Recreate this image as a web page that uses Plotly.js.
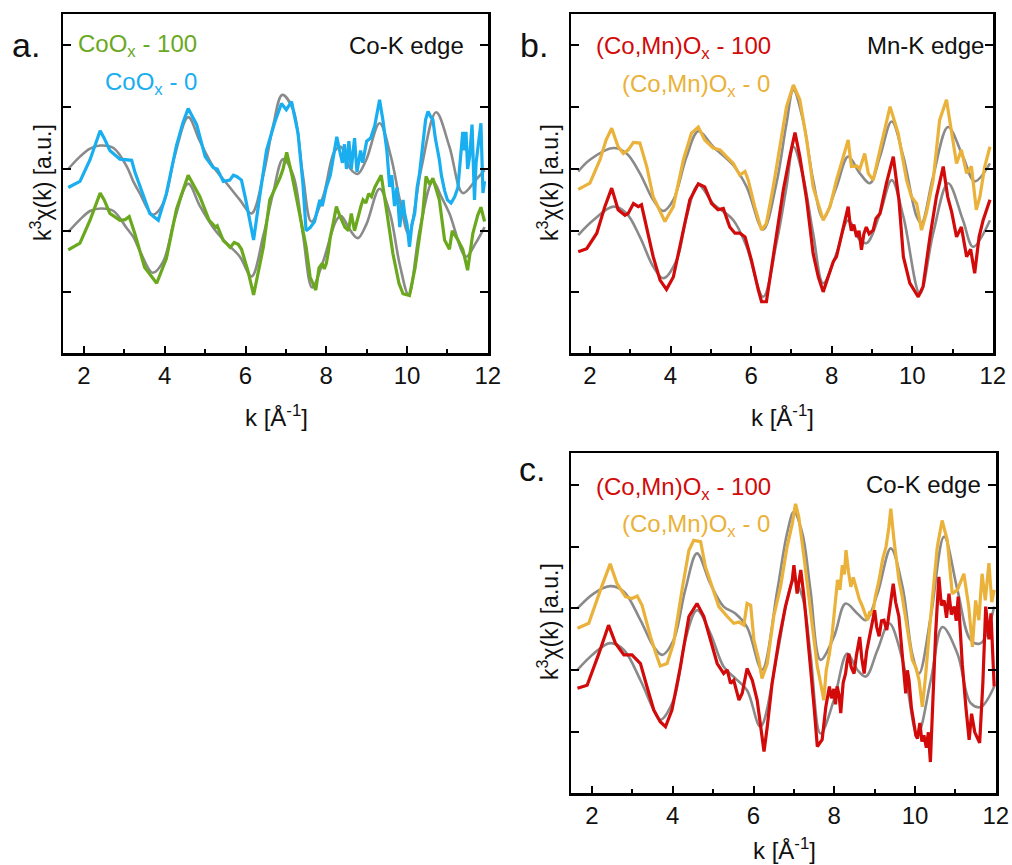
<!DOCTYPE html>
<html>
<head>
<meta charset="utf-8">
<script src="https://cdn.plot.ly/plotly-3.0.1.min.js"></script>
<style>html,body{margin:0;padding:0;background:#fff}#chart{width:1012px;height:865px}</style>
</head>
<body>
<div id="chart"></div>
<script>
// ---------------- DATA (k in 1/Angstrom, k^3 chi(k) in arbitrary units, offset stacked) ----------------
// Panel a: Co-K edge, CoOx
const coOx0_a = [[1.61,-0.30],[1.90,-0.20],[2.15,0.15],[2.30,0.45],[2.40,0.62],[2.50,0.50],[2.64,0.30],[2.89,0.16],[3.10,0.15],[3.18,0.14],[3.26,-0.05],[3.47,-0.45],[3.63,-0.72],[3.84,-0.83],[4.04,-0.40],[4.29,0.38],[4.45,0.75],[4.58,0.98],[4.79,0.72],[5.00,0.20],[5.20,0.02],[5.30,0.00],[5.45,-0.20],[5.61,-0.18],[5.70,-0.10],[5.78,-0.12],[5.90,-0.18],[6.00,-0.48],[6.20,-1.15],[6.35,-0.45],[6.52,0.30],[6.72,0.75],[6.89,1.06],[7.01,0.96],[7.14,1.09],[7.30,0.58],[7.42,-0.23],[7.50,-1.00],[7.60,-0.95],[7.71,-0.85],[7.84,-0.50],[7.90,-0.60],[8.00,-0.30],[8.10,-0.10],[8.20,0.30],[8.26,0.52],[8.33,0.30],[8.40,0.10],[8.45,0.40],[8.50,0.00],[8.56,0.45],[8.62,0.00],[8.70,0.50],[8.76,-0.05],[8.85,0.30],[8.90,0.10],[9.00,0.45],[9.10,0.50],[9.20,0.70],[9.32,1.12],[9.40,0.80],[9.50,0.30],[9.57,-0.29],[9.62,-0.10],[9.69,-0.60],[9.75,-0.30],[9.82,-0.94],[9.90,-0.50],[9.94,-0.72],[10.00,-0.90],[10.06,-1.26],[10.12,-0.90],[10.19,-0.72],[10.25,-0.30],[10.31,-0.07],[10.40,0.50],[10.46,0.80],[10.52,0.93],[10.58,0.85],[10.64,0.80],[10.70,0.50],[10.80,0.15],[10.85,-0.10],[10.93,-0.35],[11.00,-0.50],[11.09,-0.55],[11.18,-0.45],[11.26,-0.30],[11.30,0.00],[11.38,0.60],[11.42,0.30],[11.46,0.60],[11.50,0.00],[11.55,0.20],[11.61,0.72],[11.67,-0.50],[11.71,0.10],[11.75,0.31],[11.80,0.60],[11.83,0.74],[11.88,-0.39],[11.92,-0.20]];
const coOx0_a_fit = [[1.61,0.00],[1.90,0.20],[2.15,0.33],[2.40,0.38],[2.73,0.34],[3.06,0.04],[3.22,-0.20],[3.38,-0.39],[3.70,-0.74],[3.96,-0.56],[4.25,0.22],[4.58,0.84],[4.87,0.45],[5.20,0.04],[5.53,-0.23],[5.86,-0.50],[6.15,-0.72],[6.44,-0.10],[6.68,0.69],[6.91,1.20],[7.18,0.96],[7.42,-0.10],[7.63,-0.85],[7.92,-0.45],[8.20,0.28],[8.36,0.36],[8.60,0.00],[8.78,-0.08],[8.99,0.15],[9.32,0.74],[9.60,0.20],[9.82,-0.50],[10.04,-1.05],[10.35,0.00],[10.72,0.92],[11.05,0.36],[11.38,-0.39],[11.70,-0.18],[11.92,-0.02]];
const coOx100_a = [[1.61,-1.31],[1.90,-1.20],[2.15,-0.83],[2.30,-0.55],[2.40,-0.39],[2.50,-0.50],[2.64,-0.72],[2.89,-0.83],[3.02,-0.82],[3.12,-0.77],[3.26,-1.05],[3.50,-1.59],[3.80,-1.85],[4.04,-1.45],[4.29,-0.65],[4.58,-0.10],[4.87,-0.45],[5.10,-0.83],[5.26,-0.94],[5.30,-0.92],[5.45,-1.16],[5.55,-1.22],[5.62,-1.27],[5.72,-1.19],[5.82,-1.22],[5.90,-1.30],[6.06,-1.65],[6.20,-2.04],[6.44,-1.27],[6.60,-0.50],[6.85,-0.15],[6.93,0.00],[7.02,0.27],[7.15,-0.10],[7.25,-0.45],[7.38,-0.90],[7.50,-1.26],[7.60,-1.75],[7.74,-1.96],[7.82,-1.60],[7.90,-1.53],[7.95,-1.62],[8.00,-1.53],[8.05,-1.35],[8.10,-1.10],[8.18,-0.85],[8.25,-0.61],[8.33,-0.75],[8.40,-0.85],[8.46,-0.94],[8.55,-1.00],[8.62,-0.72],[8.70,-1.00],[8.76,-0.85],[8.80,-0.72],[8.86,-0.60],[8.91,-0.50],[8.98,-0.55],[9.05,-0.40],[9.12,-0.45],[9.20,-0.30],[9.36,-0.10],[9.50,-0.70],[9.65,-1.37],[9.80,-1.85],[9.90,-2.02],[10.06,-2.05],[10.20,-1.60],[10.39,-0.72],[10.47,-0.12],[10.56,-0.25],[10.64,-0.15],[10.80,-0.50],[10.93,-1.15],[11.05,-1.30],[11.12,-1.00],[11.26,-1.15],[11.38,-1.30],[11.50,-1.64],[11.63,-1.04],[11.75,-0.75],[11.83,-0.62],[11.92,-0.85]];
const coOx100_a_fit = [[1.61,-1.02],[1.90,-0.82],[2.15,-0.68],[2.42,-0.64],[2.73,-0.68],[3.06,-0.96],[3.22,-1.10],[3.40,-1.35],[3.70,-1.68],[3.96,-1.50],[4.25,-0.80],[4.58,-0.24],[4.87,-0.60],[5.20,-0.95],[5.53,-1.20],[5.86,-1.42],[6.15,-1.74],[6.44,-1.08],[6.68,-0.40],[6.93,0.16],[7.18,-0.10],[7.42,-1.05],[7.65,-1.92],[7.92,-1.50],[8.25,-0.83],[8.37,-0.76],[8.58,-0.98],[8.78,-1.12],[8.99,-0.90],[9.32,-0.32],[9.57,-0.70],[9.82,-1.55],[10.04,-2.04],[10.31,-1.00],[10.64,-0.20],[10.85,-0.45],[11.05,-0.72],[11.46,-1.42],[11.70,-1.20],[11.92,-0.94]];

// Panel b: Mn-K edge, (Co,Mn)Ox
const cmo0_b = [[1.71,-0.33],[2.00,-0.23],[2.25,0.15],[2.40,0.47],[2.54,0.66],[2.70,0.36],[2.83,0.25],[2.95,0.31],[3.08,0.43],[3.24,0.42],[3.41,0.04],[3.57,-0.45],[3.86,-0.85],[4.07,-0.61],[4.32,0.15],[4.52,0.58],[4.69,0.68],[4.85,0.47],[5.06,0.34],[5.23,0.31],[5.39,0.20],[5.56,0.09],[5.72,-0.10],[5.85,-0.04],[5.93,-0.18],[6.09,-0.61],[6.26,-0.99],[6.38,-0.88],[6.55,-0.29],[6.71,0.36],[6.88,1.01],[7.05,1.36],[7.21,1.12],[7.38,0.47],[7.54,-0.29],[7.79,-0.83],[7.96,-0.61],[8.12,-0.18],[8.29,0.20],[8.41,0.47],[8.49,0.04],[8.62,0.05],[8.70,0.00],[8.82,0.25],[8.91,-0.07],[9.03,-0.18],[9.20,0.31],[9.36,0.74],[9.45,1.01],[9.65,0.58],[9.86,-0.18],[9.98,-0.45],[10.11,-0.56],[10.23,-0.99],[10.35,-0.72],[10.52,-0.18],[10.68,0.79],[10.85,1.12],[11.02,0.36],[11.10,0.09],[11.22,0.31],[11.35,-0.07],[11.47,0.04],[11.59,-0.66],[11.68,-0.45],[11.80,0.04],[11.93,0.36]];
const cmo0_b_fit = [[1.71,-0.04],[2.00,0.15],[2.58,0.34],[2.91,0.25],[3.24,-0.07],[3.57,-0.50],[3.82,-0.68],[4.07,-0.50],[4.40,0.20],[4.69,0.61],[5.06,0.36],[5.56,0.06],[5.89,-0.29],[6.30,-0.98],[6.63,-0.23],[6.88,0.74],[7.05,1.28],[7.29,0.79],[7.54,-0.18],[7.79,-0.80],[8.12,-0.29],[8.41,0.20],[8.70,-0.07],[8.95,-0.23],[9.20,0.20],[9.49,0.77],[9.78,0.20],[10.11,-0.77],[10.23,-0.88],[10.52,-0.12],[10.89,0.68],[11.26,0.20],[11.55,-0.20],[11.93,0.09]];
const cmo100_b = [[1.71,-1.34],[1.92,-1.29],[2.17,-1.04],[2.37,-0.61],[2.54,-0.31],[2.70,-0.66],[2.87,-0.75],[2.95,-0.72],[3.08,-0.56],[3.20,-0.61],[3.28,-0.58],[3.41,-0.94],[3.57,-1.42],[3.74,-1.80],[3.90,-1.95],[4.07,-1.75],[4.27,-1.15],[4.48,-0.50],[4.69,-0.24],[4.85,-0.29],[5.02,-0.56],[5.18,-0.66],[5.31,-0.64],[5.47,-0.94],[5.60,-1.04],[5.72,-1.04],[5.85,-1.10],[6.01,-1.48],[6.18,-1.96],[6.26,-2.15],[6.38,-2.15],[6.51,-1.58],[6.63,-1.10],[6.80,-0.34],[6.96,0.20],[7.09,0.59],[7.21,0.20],[7.38,-0.50],[7.54,-1.37],[7.67,-1.75],[7.79,-1.99],[7.96,-1.64],[8.04,-1.50],[8.12,-1.42],[8.20,-1.20],[8.29,-0.99],[8.35,-0.80],[8.41,-0.61],[8.45,-0.85],[8.49,-1.00],[8.55,-0.90],[8.62,-1.10],[8.68,-1.00],[8.74,-1.31],[8.80,-1.05],[8.86,-0.94],[8.93,-1.05],[9.03,-0.99],[9.10,-0.80],[9.20,-0.72],[9.36,-0.23],[9.53,0.20],[9.67,-0.50],[9.78,-1.42],[9.94,-1.85],[10.15,-2.07],[10.27,-1.90],[10.44,-1.10],[10.60,-0.45],[10.77,0.04],[10.88,-0.45],[10.98,-0.70],[11.10,-1.10],[11.22,-0.94],[11.35,-1.42],[11.45,-1.30],[11.55,-1.69],[11.66,-1.10],[11.76,-0.83],[11.93,-0.50]];
const cmo100_b_fit = [[1.71,-1.07],[2.08,-0.83],[2.58,-0.61],[2.91,-0.72],[3.24,-1.10],[3.57,-1.58],[3.82,-1.77],[4.15,-1.48],[4.40,-0.77],[4.69,-0.26],[5.06,-0.56],[5.56,-0.83],[5.89,-1.26],[6.30,-2.07],[6.63,-1.20],[6.88,-0.29],[7.05,0.36],[7.29,-0.12],[7.54,-1.04],[7.79,-1.85],[8.12,-1.37],[8.41,-0.83],[8.70,-1.15],[8.87,-1.20],[9.20,-0.72],[9.49,-0.18],[9.78,-0.77],[10.19,-2.02],[10.52,-1.04],[10.89,-0.23],[11.26,-0.83],[11.51,-1.26],[11.93,-0.83]];

// Panel c: Co-K edge, (Co,Mn)Ox
const cmo0_c = [[1.64,-0.32],[1.92,-0.24],[2.21,0.30],[2.45,0.72],[2.62,0.40],[2.83,0.19],[2.99,0.16],[3.12,0.20],[3.24,0.05],[3.45,-0.46],[3.61,-0.78],[3.69,-0.93],[3.86,-0.89],[4.02,-0.56],[4.23,0.30],[4.40,0.94],[4.52,1.10],[4.69,1.08],[4.81,0.67],[4.98,0.35],[5.14,0.03],[5.35,-0.13],[5.51,-0.24],[5.64,-0.22],[5.76,-0.27],[5.84,0.08],[5.93,0.05],[6.01,-0.51],[6.13,-0.83],[6.21,-1.13],[6.34,-0.89],[6.50,-0.13],[6.67,0.35],[6.83,0.99],[6.96,1.37],[7.04,1.69],[7.12,1.48],[7.25,0.83],[7.41,-0.08],[7.58,-0.94],[7.66,-1.20],[7.74,-1.48],[7.80,-1.00],[7.88,-0.73],[7.95,-0.40],[8.02,0.10],[8.08,0.46],[8.14,0.30],[8.20,0.70],[8.25,0.55],[8.29,0.94],[8.35,0.60],[8.41,0.35],[8.47,0.50],[8.55,0.30],[8.62,0.15],[8.70,0.03],[8.76,-0.10],[8.82,-0.19],[8.88,-0.05],[8.95,-0.10],[9.02,0.20],[9.11,0.46],[9.20,0.80],[9.28,0.99],[9.35,1.30],[9.40,1.61],[9.48,1.10],[9.60,0.46],[9.68,0.20],[9.77,-0.19],[9.85,-0.55],[9.93,-0.83],[10.02,-0.95],[10.10,-1.16],[10.18,-1.59],[10.26,-1.10],[10.35,-0.40],[10.43,0.13],[10.55,0.99],[10.67,1.42],[10.80,1.10],[10.92,0.24],[11.05,0.30],[11.21,0.56],[11.33,0.03],[11.42,-0.62],[11.50,0.13],[11.58,-0.19],[11.66,0.56],[11.74,0.13],[11.83,0.73],[11.90,0.10],[11.96,0.30]];
const cmo0_c_fit = [[1.64,0.00],[2.04,0.24],[2.45,0.36],[2.79,0.27],[3.20,-0.19],[3.53,-0.62],[3.74,-0.75],[4.02,-0.51],[4.31,0.30],[4.60,0.89],[4.93,0.40],[5.26,0.03],[5.55,-0.08],[5.84,-0.30],[6.21,-0.99],[6.59,0.30],[6.83,1.21],[7.00,1.56],[7.21,1.21],[7.41,0.30],[7.66,-0.83],[7.99,-0.46],[8.28,0.08],[8.57,-0.08],[8.78,-0.19],[9.07,0.24],[9.40,0.97],[9.69,0.35],[9.93,-0.73],[10.10,-1.05],[10.39,-0.13],[10.72,1.16],[11.05,0.30],[11.38,-0.51],[11.63,-0.56],[11.96,0.03]];
const cmo100_c = [[1.64,-1.29],[1.88,-1.24],[2.17,-0.73],[2.41,-0.27],[2.58,-0.56],[2.79,-0.75],[2.99,-0.75],[3.20,-0.89],[3.36,-1.26],[3.53,-1.64],[3.69,-1.83],[3.82,-1.91],[3.98,-1.64],[4.19,-0.94],[4.40,-0.13],[4.60,0.08],[4.77,-0.13],[4.93,-0.51],[5.10,-0.89],[5.26,-1.05],[5.35,-0.99],[5.43,-1.21],[5.51,-1.16],[5.64,-1.48],[5.72,-1.37],[5.84,-0.97],[5.97,-1.16],[6.09,-1.48],[6.21,-2.07],[6.26,-2.31],[6.34,-1.91],[6.46,-1.21],[6.63,-0.51],[6.79,0.03],[6.96,0.46],[7.00,0.70],[7.08,0.24],[7.17,0.62],[7.25,0.19],[7.37,-0.62],[7.50,-1.59],[7.58,-2.23],[7.70,-2.12],[7.79,-1.59],[7.88,-1.26],[7.93,-1.45],[7.99,-1.30],[8.03,-1.55],[8.07,-1.26],[8.12,-1.40],[8.16,-1.69],[8.22,-1.20],[8.28,-1.05],[8.32,-0.85],[8.36,-0.73],[8.42,-0.95],[8.49,-1.05],[8.55,-0.75],[8.63,-0.46],[8.68,-0.80],[8.74,-1.05],[8.80,-0.70],[8.86,-0.51],[8.93,-0.30],[9.00,-0.03],[9.05,-0.30],[9.11,-0.45],[9.17,-0.20],[9.23,-0.19],[9.30,-0.35],[9.36,-0.08],[9.41,0.15],[9.46,0.40],[9.52,0.10],[9.60,-0.13],[9.65,-0.50],[9.69,-0.83],[9.73,-1.10],[9.77,-1.37],[9.81,-1.00],[9.85,-1.16],[9.91,-1.60],[9.98,-1.85],[10.02,-2.05],[10.06,-2.10],[10.12,-1.85],[10.17,-2.15],[10.22,-2.05],[10.28,-2.25],[10.33,-2.00],[10.38,-2.48],[10.45,-1.37],[10.51,-0.40],[10.59,0.51],[10.65,0.05],[10.72,0.13],[10.78,-0.15],[10.84,0.24],[10.90,-0.10],[10.97,0.03],[11.02,-0.20],[11.07,0.19],[11.17,-0.90],[11.26,-1.60],[11.34,-2.12],[11.40,-1.70],[11.48,-2.00],[11.60,-2.17],[11.68,-1.20],[11.75,0.03],[11.83,-0.50],[11.88,-0.08],[11.96,-1.26]];
const cmo100_c_fit = [[1.64,-0.99],[2.04,-0.73],[2.45,-0.56],[2.79,-0.67],[3.20,-1.16],[3.53,-1.64],[3.69,-1.80],[4.02,-1.48],[4.31,-0.51],[4.60,-0.03],[4.93,-0.40],[5.26,-0.94],[5.55,-1.13],[5.84,-1.32],[6.17,-1.91],[6.59,-0.73],[6.83,0.13],[7.00,0.46],[7.21,0.19],[7.41,-0.73],[7.66,-2.02],[7.99,-1.48],[8.32,-0.73],[8.57,-0.99],[8.78,-1.10],[9.07,-0.67],[9.36,-0.24],[9.69,-0.83],[10.06,-2.04],[10.39,-1.16],[10.68,-0.30],[11.05,-0.73],[11.38,-1.53],[11.63,-1.59],[11.96,-1.26]];

const xTickVals = [2,4,6,8,10,12];
const xTickText = ['2','4','6','8','10','12'];
const xMinorVals = [3,5,7,9,11];
const yTickVals = [-2,-1,0,1,2];

// ---------------- STYLE ----------------
const FONT = 'Liberation Sans, Arial, sans-serif';
const GRAY = '#8a8a8a', GREEN = '#6aa81e', BLUE = '#18aef0', RED = '#d20a0a', ORANGE = '#eab23a';
const W = 1012, H = 865;
const px = v => v / W, py = v => 1 - v / H;

function line(pairs, color, width, xa, ya, smooth) {
  return {
    x: pairs.map(p => p[0]), y: pairs.map(p => p[1]),
    type: 'scatter', mode: 'lines', xaxis: xa, yaxis: ya, hoverinfo: 'skip',
    line: {color: color, width: width, shape: smooth ? 'spline' : 'linear', smoothing: 1}
  };
}

const traces = [
  line(coOx0_a_fit, GRAY, 2.6, 'x', 'y', true),
  line(coOx100_a_fit, GRAY, 2.6, 'x', 'y', true),
  line(coOx100_a, GREEN, 3.2, 'x', 'y', false),
  line(coOx0_a, BLUE, 3.2, 'x', 'y', false),
  line(cmo0_b_fit, GRAY, 2.6, 'x2', 'y2', true),
  line(cmo100_b_fit, GRAY, 2.6, 'x2', 'y2', true),
  line(cmo0_b, ORANGE, 3.2, 'x2', 'y2', false),
  line(cmo100_b, RED, 3.2, 'x2', 'y2', false),
  line(cmo0_c_fit, GRAY, 2.6, 'x3', 'y3', true),
  line(cmo100_c_fit, GRAY, 2.6, 'x3', 'y3', true),
  line(cmo0_c, ORANGE, 3.2, 'x3', 'y3', false),
  line(cmo100_c, RED, 3.2, 'x3', 'y3', false)
];

function xAxis(l, r, range, anchor) {
  return {
    domain: [px(l), px(r)], range: range, anchor: anchor,
    showgrid: false, zeroline: false, showline: true, linecolor: '#000', linewidth: 2.5, mirror: true,
    ticks: 'inside', ticklen: 7, tickwidth: 2, tickcolor: '#000',
    tickmode: 'array', tickvals: xTickVals, ticktext: xTickText,
    tickfont: {family: FONT, size: 24, color: '#111'},
    minor: {ticks: 'inside', ticklen: 4, tickwidth: 2, tickcolor: '#000', tickmode: 'array', tickvals: xMinorVals},
    fixedrange: true
  };
}
function yAxis(t, b, anchor) {
  return {
    domain: [py(b), py(t)], range: [-2.98, 2.51], anchor: anchor,
    showgrid: false, zeroline: false, showline: true, linecolor: '#000', linewidth: 2.5, mirror: 'ticks',
    ticks: 'inside', ticklen: 8, tickwidth: 2, tickcolor: '#000',
    tickmode: 'array', tickvals: yTickVals, showticklabels: false, fixedrange: true
  };
}

function ann(text, x, y, size, color, xanchor, angle) {
  return {text: text, x: px(x), y: py(y), xref: 'paper', yref: 'paper', showarrow: false,
    xanchor: xanchor || 'center', yanchor: 'middle', textangle: angle || 0,
    font: {family: FONT, size: size, color: color || '#111'}};
}

const ytitle = 'k<sup>3</sup>χ(k) [a.u.]';
const xtitle = 'k [Å<sup>-1</sup>]';

const layout = {
  width: W, height: H, margin: {l: 0, r: 0, t: 0, b: 0},
  paper_bgcolor: '#fff', plot_bgcolor: '#fff', showlegend: false,
  xaxis: xAxis(63, 488, [1.48, 12.005], 'y'),
  yaxis: yAxis(14, 353, 'x'),
  xaxis2: xAxis(571, 993, [1.53, 12.005], 'y2'),
  yaxis2: yAxis(14, 353, 'x2'),
  xaxis3: xAxis(571, 996, [1.48, 12.005], 'y3'),
  yaxis3: yAxis(453, 793, 'x3'),
  annotations: [
    ann('a.', 10, 45, 34, '#111', 'left'),
    ann('b.', 518, 45, 34, '#111', 'left'),
    ann('c.', 517, 469, 34, '#111', 'left'),
    ann('CoO<sub>x</sub> - 100', 199, 46, 24, GREEN, 'right'),
    ann('CoO<sub>x</sub> - 0', 199, 83, 24, BLUE, 'right'),
    ann('Co-K edge', 466, 45, 24, '#111', 'right'),
    ann('(Co,Mn)O<sub>x</sub> - 100', 773, 48, 24, RED, 'right'),
    ann('(Co,Mn)O<sub>x</sub> - 0', 772, 85, 24, ORANGE, 'right'),
    ann('Mn-K edge', 986, 45, 24, '#111', 'right'),
    ann('(Co,Mn)O<sub>x</sub> - 100', 773, 488, 24, RED, 'right'),
    ann('(Co,Mn)O<sub>x</sub> - 0', 772, 525, 24, ORANGE, 'right'),
    ann('Co-K edge', 983, 484, 24, '#111', 'right'),
    ann(ytitle, 41, 183, 23, '#111', 'center', -90),
    ann(ytitle, 548, 183, 23, '#111', 'center', -90),
    ann(ytitle, 548, 622, 23, '#111', 'center', -90),
    ann(xtitle, 276, 416, 24),
    ann(xtitle, 782, 416, 24),
    ann(xtitle, 784, 849, 24)
  ]
};

Plotly.newPlot('chart', traces, layout, {displayModeBar: false, staticPlot: true});
</script>
</body>
</html>
